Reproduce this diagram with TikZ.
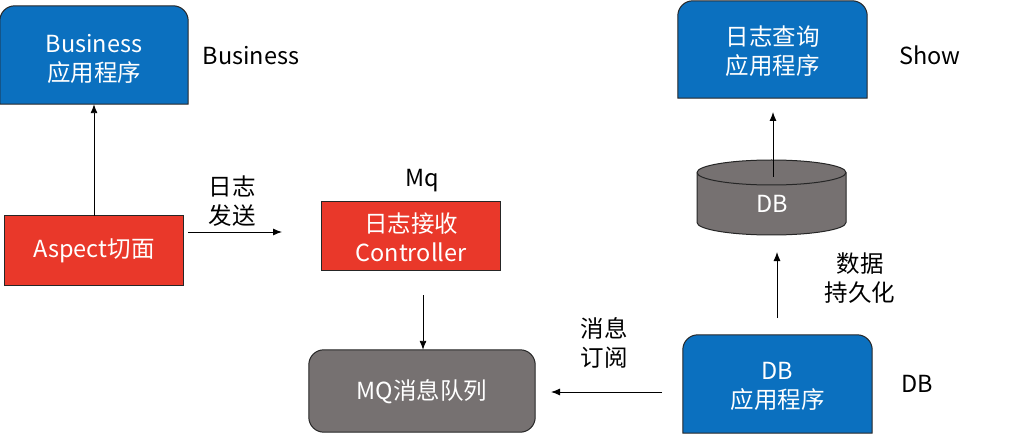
\documentclass[tikz,border=0pt]{standalone}
\usepackage{fontspec}
\setmainfont{Noto Sans CJK SC}
\usetikzlibrary{arrows.meta,backgrounds}
\definecolor{boxblue}{HTML}{0B70BF}
\definecolor{boxred}{HTML}{E9382A}
\definecolor{boxgray}{HTML}{767171}
\begin{document}
\begin{tikzpicture}[x=1pt,y=1pt,
  txt/.style={font=\fontsize{23.5}{29}\selectfont, align=center, inner sep=0pt},
  intxt/.style={txt, text=white},
  shapeline/.style={draw=black!85, line width=1pt},
  conn/.style={line width=0.9pt, -{Latex[length=9pt,width=7pt]}},
]
\useasboundingbox (0,0) rectangle (1016,434);

% nodes (text holders with box sizes)
\node[intxt, minimum width=188, minimum height=98] (biz) at (94,379) {};
\node[intxt, minimum width=178, minimum height=69] (asp) at (94,183.5) {};
\node[intxt, minimum width=178, minimum height=68] (ctl) at (411,198) {};
\node[intxt, minimum width=226, minimum height=82] (mq) at (422,43) {};
\node[intxt, minimum width=189, minimum height=97] (show) at (772.5,384.5) {};
\node[intxt, minimum width=189, minimum height=98] (dbapp) at (777.5,50) {};

\node[intxt] (tbiz) at (94,375.5) {Business\\应用程序};
\node[intxt] (tasp) at (94,183) {Aspect切面};
\node[intxt] (tctl) at (411,197) {日志接收\\Controller};
\node[intxt] (tmq) at (422,42.5) {MQ消息队列};
\node[intxt] (tshow) at (772.5,382.5) {日志查询\\应用程序};
\node[intxt] (db) at (772,230) {DB};
\node[intxt] (tdbapp) at (777.5,47.5) {DB\\应用程序};

% labels
\node[txt] (lbiz) at (251,378) {Business};
\node[txt] (lsend) at (232,233) {日志\\发送};
\node[txt] (lmq) at (422,253) {Mq};
\node[txt] (lsub) at (604,91) {消息\\订阅};
\node[txt] (lshow) at (930,379) {Show};
\node[txt] (lpers) at (860,156) {数据\\持久化};
\node[txt] (ldb) at (917,50) {DB};

\begin{scope}[on background layer]
  % Business (top rounded)
  \draw[shapeline, fill=boxblue] (biz.south west) -- ([yshift=-15pt]biz.north west)
    arc[start angle=180,end angle=90,radius=15pt] -- ([xshift=-15pt]biz.north east)
    arc[start angle=90,end angle=0,radius=15pt] -- (biz.south east) -- cycle;
  % Show app
  \draw[shapeline, fill=boxblue] (show.south west) -- ([yshift=-15pt]show.north west)
    arc[start angle=180,end angle=90,radius=15pt] -- ([xshift=-15pt]show.north east)
    arc[start angle=90,end angle=0,radius=15pt] -- (show.south east) -- cycle;
  % DB app
  \draw[shapeline, fill=boxblue] (dbapp.south west) -- ([yshift=-15pt]dbapp.north west)
    arc[start angle=180,end angle=90,radius=15pt] -- ([xshift=-15pt]dbapp.north east)
    arc[start angle=90,end angle=0,radius=15pt] -- (dbapp.south east) -- cycle;
  % Aspect
  \draw[shapeline, fill=boxred] (asp.south west) rectangle (asp.north east);
  % Controller
  \draw[shapeline, fill=boxred] (ctl.south west) rectangle (ctl.north east);
  % MQ
  \draw[shapeline, fill=boxgray, rounded corners=15pt] (mq.south west) rectangle (mq.north east);
  % DB cylinder
  \draw[shapeline, fill=boxgray] (697,261.5) -- (697,211.5)
    arc[start angle=180,end angle=360,x radius=74.5pt,y radius=12.5pt] -- (846,261.5)
    arc[start angle=0,end angle=180,x radius=74.5pt,y radius=12.5pt] -- cycle;
  \draw[shapeline] (697,261.5) arc[start angle=180,end angle=360,x radius=74.5pt,y radius=12.5pt];
\end{scope}

% connector end points
\coordinate (sendA) at (188,202);
\coordinate (sendB) at (282,202);
\coordinate (ctlout) at (423,139);
\coordinate (subA) at (662,42);
\coordinate (subB) at (551,42);
\coordinate (dbtop) at (773,257);
\coordinate (showin) at (773,322);
\coordinate (dbappout) at (777,116);
\coordinate (dbin) at (777,182);

% connectors
\draw[conn] (asp.north) -- (biz.south);
\draw[conn] (sendA) -- (sendB);
\draw[conn] (ctlout) -- (mq.north -| ctlout);
\draw[conn] (subA) -- (subB);
\draw[conn] (dbtop) -- (showin);
\draw[conn] (dbappout) -- (dbin);
\end{tikzpicture}
\end{document}
